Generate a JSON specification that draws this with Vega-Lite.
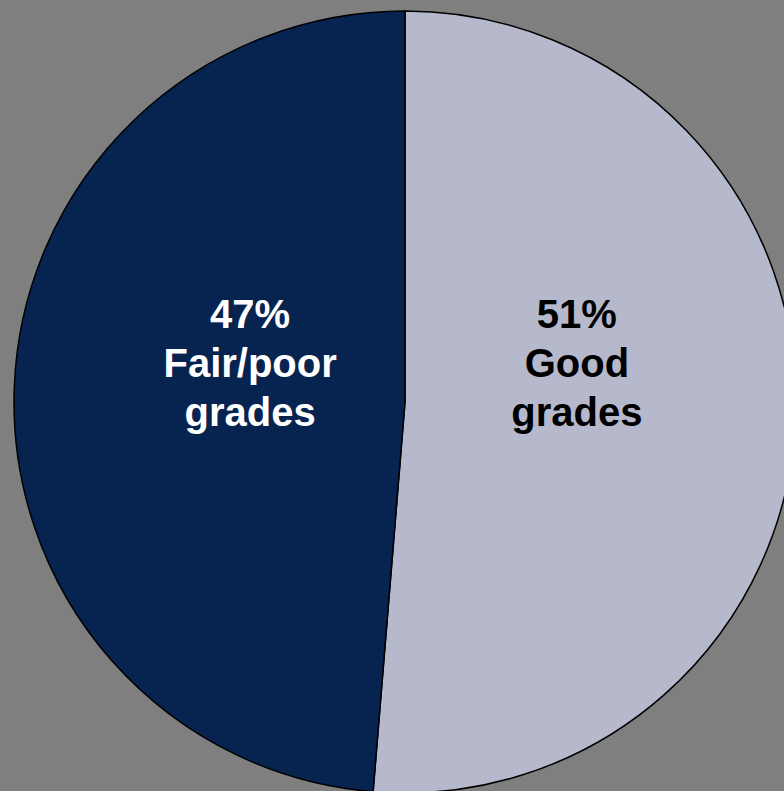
{
  "$schema": "https://vega.github.io/schema/vega-lite/v6.json",
  "autosize": "none",
  "padding": 0,
  "width": 810,
  "height": 804,
  "background": "#7f7f7f",
  "view": {"stroke": null},
  "data": {
    "values": [
      {"category": "Good grades", "value": 51.3, "rank": 1, "label": "51%\nGood\ngrades"},
      {"category": "Fair/poor grades", "value": 48.7, "rank": 2, "label": "47%\nFair/poor\ngrades"}
    ]
  },
  "encoding": {
    "theta": {"field": "value", "type": "quantitative", "stack": true},
    "order": {"field": "rank", "type": "quantitative"}
  },
  "layer": [
    {
      "mark": {"type": "arc", "outerRadius": 391, "stroke": "#000000", "strokeWidth": 1.5},
      "encoding": {
        "color": {
          "field": "category",
          "type": "nominal",
          "scale": {"domain": ["Good grades", "Fair/poor grades"], "range": ["#b6b9cc", "#072350"]},
          "legend": null
        }
      }
    },
    {
      "mark": {
        "type": "text",
        "font": "Liberation Sans",
        "fontWeight": "bold",
        "fontSize": 40,
        "lineHeight": 49,
        "lineBreak": "\n",
        "align": "center",
        "baseline": "middle",
        "radius": {"expr": "datum.category == 'Good grades' ? 172 : 155"},
        "dy": {"expr": "datum.category == 'Good grades' ? -93 : -80"}
      },
      "encoding": {
        "text": {"field": "label", "type": "nominal"},
        "color": {
          "field": "category",
          "type": "nominal",
          "scale": {"domain": ["Good grades", "Fair/poor grades"], "range": ["#000000", "#ffffff"]},
          "legend": null
        }
      }
    }
  ],
  "resolve": {"scale": {"color": "independent"}}
}
